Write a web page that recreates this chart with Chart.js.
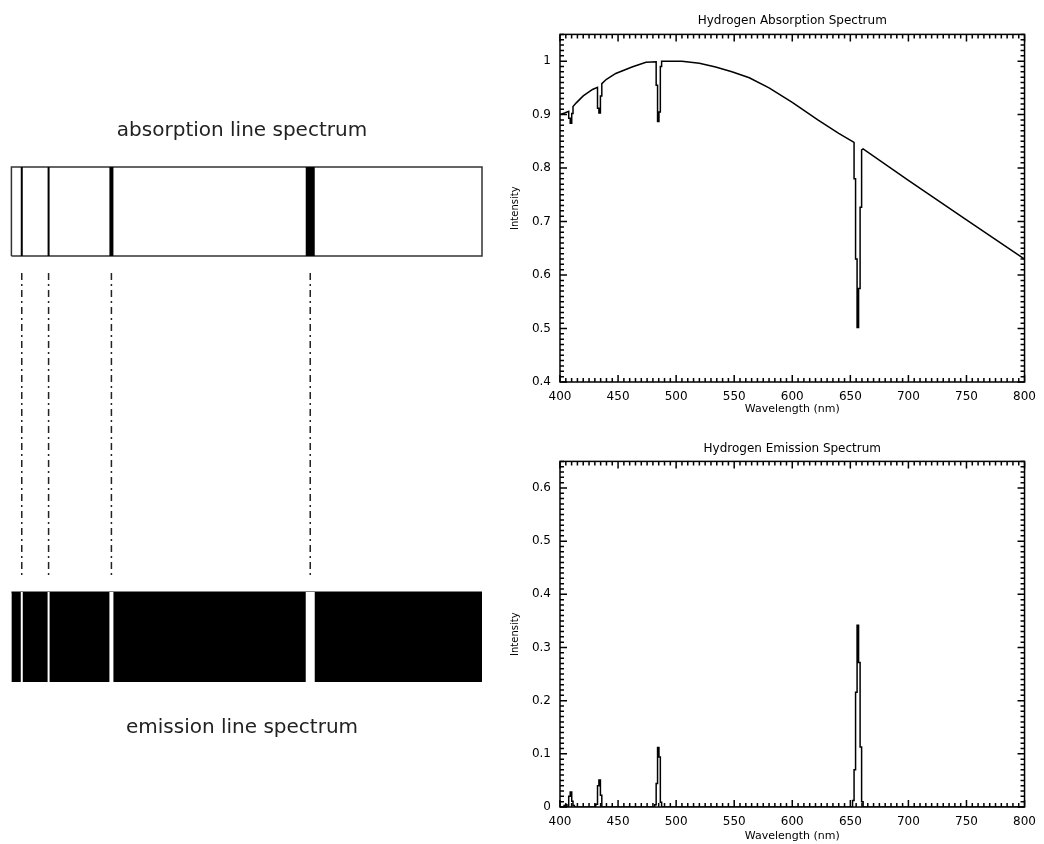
<!DOCTYPE html>
<html>
<head>
<meta charset="utf-8">
<title>Hydrogen spectrum</title>
<script src="https://cdn.jsdelivr.net/npm/chart.js@4.4.1/dist/chart.umd.min.js"></script>
<style>
  html, body { margin: 0; padding: 0; background: #fff; }
  body { width: 1044px; height: 844px; position: relative; overflow: hidden; }
  canvas { position: absolute; }
</style>
</head>
<body>
<canvas id="stripAbs" width="500" height="160" style="left:0;top:100px"></canvas>
<canvas id="stripGuides" width="500" height="330" style="left:0;top:260px"></canvas>
<canvas id="stripEm" width="500" height="175" style="left:0;top:585px"></canvas>
<canvas id="plotAbs" width="544" height="420" style="left:500px;top:0"></canvas>
<canvas id="plotEm" width="544" height="424" style="left:500px;top:420px"></canvas>
<script>
// Balmer lines shown on the two strips (nm)
const specLines = [408.8, 431.6, 485.0, 654.0];
const specLineWidth = [2, 2, 4, 9];

// absorption spectrum: continuum with notched lines (nm, intensity)
const absWave = [400, 404, 407.5, 407.5, 408.8, 408.8, 410.1, 410.1, 411.2, 411.2,
    414, 420, 428, 432.3, 432.3, 433.5, 433.5, 434.8, 434.8, 436,
    436, 440, 448, 462, 474, 482.8, 482.8, 484, 484, 485.2,
    485.2, 486.4, 486.4, 487.5, 487.5, 505, 520, 534, 548, 563,
    580, 600, 622, 640, 653.2, 653.2, 654.5, 654.5, 655.8, 655.8,
    657.1, 657.1, 658.4, 658.4, 659.7, 659.7, 661, 700, 750, 800];
const absValue = [0.900, 0.903, 0.906, 0.893, 0.893, 0.884, 0.884, 0.902, 0.902, 0.915,
    0.922, 0.935, 0.947, 0.951, 0.912, 0.912, 0.903, 0.903, 0.935, 0.935,
    0.958, 0.966, 0.977, 0.989, 0.998, 0.999, 0.955, 0.955, 0.887, 0.887,
    0.905, 0.905, 0.990, 0.990, 1.000, 1.000, 0.996, 0.989, 0.980, 0.969,
    0.950, 0.923, 0.890, 0.865, 0.848, 0.780, 0.780, 0.630, 0.630, 0.502,
    0.502, 0.575, 0.575, 0.727, 0.727, 0.834, 0.836, 0.777, 0.703, 0.630];

// emission spectrum as histogram bins (left edge, value)
const emWave = [400, 403.5, 404.8, 406, 407.5, 408.8, 410.1, 411.2, 412.4,
    430.8, 432.3, 433.5, 434.8, 436,
    481.5, 482.8, 484, 485.2, 486.4, 487.5,
    651.9, 653.2, 654.5, 655.8, 657.1, 658.4, 659.7, 661, 800];
const emValue = [0, 0.003, 0.004, 0, 0.020, 0.028, 0.011, 0.003, 0,
    0.005, 0.040, 0.051, 0.022, 0,
    0.004, 0.044, 0.112, 0.094, 0.009, 0,
    0.012, 0.070, 0.216, 0.342, 0.272, 0.113, 0.010, 0, 0];

const xTicks = [400, 450, 500, 550, 600, 650, 700, 750, 800];
const xLabels = ['400', '450', '500', '550', '600', '650', '700', '750', '800'];
const yTicksAbs = [0.4, 0.5, 0.6, 0.7, 0.8, 0.9, 1.0];
const yLabelsAbs = ['0.4', '0.5', '0.6', '0.7', '0.8', '0.9', '1'];
const yTicksEm = [0, 0.1, 0.2, 0.3, 0.4, 0.5, 0.6];
const yLabelsEm = ['0', '0.1', '0.2', '0.3', '0.4', '0.5', '0.6'];

const FONT = "'DejaVu Sans', sans-serif";

// closed frame with inward major/minor ticks on all four sides
const boxTicks = {
    id: 'boxTicks',
    afterDatasetsDraw(chart, args, opts) {
        const { ctx, chartArea: a, scales: { x, y } } = chart;
        ctx.save();
        ctx.strokeStyle = '#000';
        ctx.lineWidth = 1.5;
        ctx.strokeRect(a.left, a.top, a.right - a.left, a.bottom - a.top);
        ctx.beginPath();
        const nx = Math.round((x.max - x.min) / opts.xMinor);
        for (let i = 0; i <= nx; i++) {
            const px = x.getPixelForValue(x.min + i * opts.xMinor);
            const len = i % opts.perMajor === 0 ? 7 : 4;
            ctx.moveTo(px, a.bottom); ctx.lineTo(px, a.bottom - len);
            ctx.moveTo(px, a.top); ctx.lineTo(px, a.top + len);
        }
        const ny = Math.floor((y.max - y.min) / opts.yMinor + 1e-6);
        for (let i = 0; i <= ny; i++) {
            const py = y.getPixelForValue(y.min + i * opts.yMinor);
            const len = i % opts.perMajor === 0 ? 7 : 4;
            ctx.moveTo(a.left, py); ctx.lineTo(a.left + len, py);
            ctx.moveTo(a.right, py); ctx.lineTo(a.right - len, py);
        }
        ctx.stroke();
        ctx.restore();
    }
};

function spectrumPlot(id, cfg) {
    return new Chart(document.getElementById(id), {
        type: 'line',
        data: {
            datasets: [{
                data: cfg.wave.map((w, i) => ({ x: w, y: cfg.value[i] })),
                borderColor: '#000',
                borderWidth: 1.5,
                pointRadius: 0,
                tension: 0,
                stepped: cfg.stepped,
                fill: false
            }]
        },
        plugins: [boxTicks],
        options: {
            responsive: false,
            animation: false,
            events: [],
            layout: { padding: { left: 0, right: 17, top: 0, bottom: 0 } },
            plugins: {
                legend: { display: false },
                tooltip: { enabled: false },
                title: {
                    display: true, fullSize: false, text: cfg.title, color: '#000',
                    font: { family: FONT, size: 12, weight: 'normal' },
                    padding: cfg.titlePadding
                },
                boxTicks: { xMinor: 5, yMinor: 0.01, perMajor: 10 }
            },
            scales: {
                x: {
                    type: 'linear', min: 400, max: 800,
                    grid: { display: false, drawTicks: false },
                    border: { display: false },
                    afterBuildTicks: s => { s.ticks = xTicks.map(value => ({ value })); },
                    afterFit: s => { s.height = cfg.xAxisHeight; },
                    ticks: {
                        color: '#000', font: { family: FONT, size: 12 }, padding: 8,
                        maxRotation: 0, autoSkip: false,
                        callback: (v, i) => xLabels[i]
                    },
                    title: {
                        display: true, text: 'Wavelength (nm)', color: '#000',
                        font: { family: FONT, size: 11 },
                        padding: { top: 0, bottom: cfg.xTitlePad }
                    }
                },
                y: {
                    min: cfg.yMin, max: cfg.yMax,
                    grid: { display: false, drawTicks: false },
                    border: { display: false },
                    afterBuildTicks: s => { s.ticks = cfg.yTicks.map(value => ({ value })); },
                    afterFit: s => { s.width = 60; },
                    ticks: {
                        color: '#000', font: { family: FONT, size: 12 }, padding: 9,
                        autoSkip: false,
                        callback: (v, i) => cfg.yLabels[i]
                    },
                    title: {
                        display: true, text: 'Intensity', color: '#000',
                        font: { family: FONT, size: 10 },
                        padding: { top: 9, bottom: 0 }
                    }
                }
            }
        }
    });
}

spectrumPlot('plotAbs', {
    wave: absWave, value: absValue, stepped: false,
    title: 'Hydrogen Absorption Spectrum',
    titlePadding: { top: 14, bottom: 6 },
    yMin: 0.4, yMax: 1.05, yTicks: yTicksAbs, yLabels: yLabelsAbs,
    xAxisHeight: 38, xTitlePad: 4
});

spectrumPlot('plotEm', {
    wave: emWave, value: emValue, stepped: 'before',
    title: 'Hydrogen Emission Spectrum',
    titlePadding: { top: 22, bottom: 5 },
    yMin: 0, yMax: 0.65, yTicks: yTicksEm, yLabels: yLabelsEm,
    xAxisHeight: 37, xTitlePad: 1
});

// ---- left column: schematic strips, each spanning y 0..1 ----
const segment = w => [{ x: w, y: 1 }, { x: w, y: 0 }];

function stripChart(id, datasets, padding, title) {
    return new Chart(document.getElementById(id), {
        type: 'line',
        data: { datasets },
        options: {
            responsive: false,
            animation: false,
            events: [],
            layout: { padding },
            elements: { point: { radius: 0 }, line: { tension: 0 } },
            plugins: {
                legend: { display: false },
                tooltip: { enabled: false },
                title: title || { display: false }
            },
            scales: {
                x: { type: 'linear', min: 392, max: 800, display: false },
                y: { min: 0, max: 1, display: false }
            }
        }
    });
}

const stripTitle = (text, position, pad) => ({
    display: true, text, position, color: '#222',
    font: { family: FONT, size: 20, weight: 'normal' },
    padding: pad
});

// absorption strip: white band, dark lines
stripChart('stripAbs', [
    ...specLines.map((w, i) => ({
        data: segment(w), borderColor: '#000', borderWidth: specLineWidth[i],
        borderCapStyle: 'butt', clip: false, order: 1
    })),
    {
        data: [{ x: 400, y: 0 }, { x: 800, y: 0 }, { x: 800, y: 1 }, { x: 400, y: 1 }, { x: 400, y: 0 }],
        borderColor: '#333', borderWidth: 1.5, backgroundColor: '#fff', fill: false,
        clip: false, order: 2
    }
], { left: 2, right: 18, top: 0, bottom: 4 },
   stripTitle('absorption line spectrum', 'top', { top: 19, bottom: 24 }));

// dash-dot guides linking the two strips
stripChart('stripGuides', specLines.map(w => ({
    data: segment(w), borderColor: '#222', borderWidth: 1.5,
    borderDash: [7, 4, 2, 4], clip: false
})), { left: 2, right: 18, top: 13, bottom: 15 });

// emission strip: black band, white lines
stripChart('stripEm', [
    ...specLines.map((w, i) => ({
        data: segment(w), borderColor: '#fff', borderWidth: specLineWidth[i],
        borderCapStyle: 'butt', clip: false, order: 1
    })),
    {
        data: [{ x: 400, y: 1 }, { x: 800, y: 1 }],
        borderColor: '#000', borderWidth: 1, backgroundColor: '#000', fill: 'origin',
        clip: false, order: 2
    }
], { left: 2, right: 18, top: 7, bottom: 0 },
   stripTitle('emission line spectrum', 'bottom', { top: 34, bottom: 20 }));
</script>
</body>
</html>
